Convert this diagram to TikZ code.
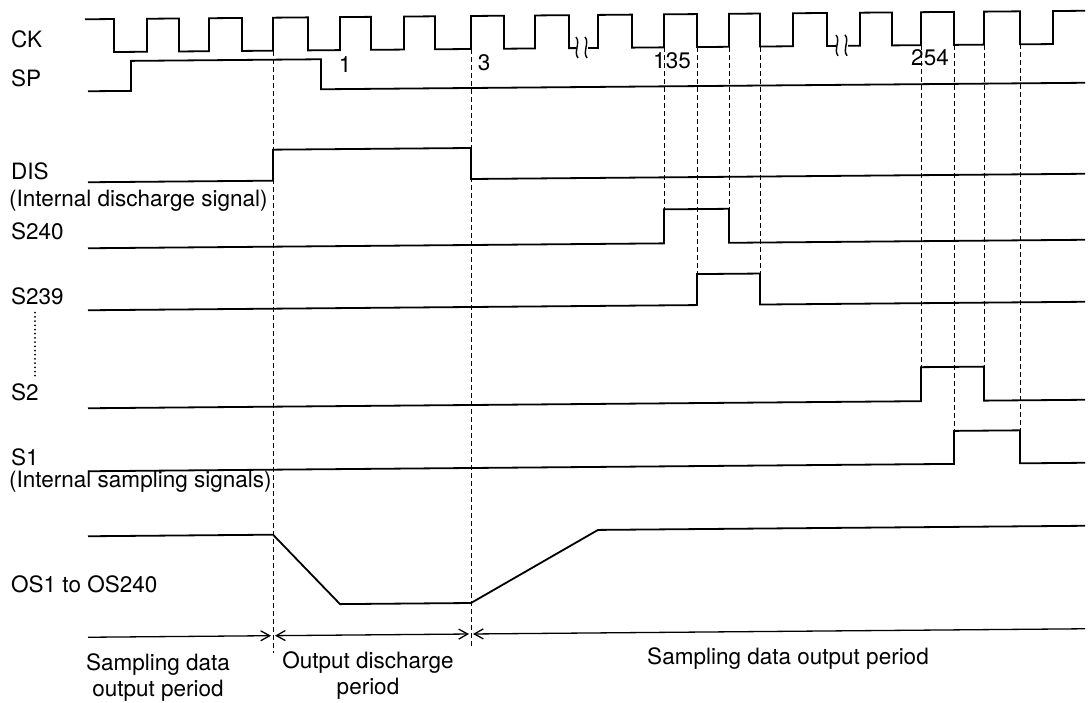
\documentclass[tikz,border=0pt]{standalone}
\usepackage{fontspec}
\setmainfont{TeX Gyre Heros}
\usetikzlibrary{arrows.meta}

\begin{document}
\begin{tikzpicture}[
  x=1pt, y=-1pt,
  font=\fontsize{22.5}{26}\selectfont,
  >={Straight Barb[length=9pt,width=10pt]},
  sig/.style={line width=1.8pt, line join=miter},
  guide/.style={line width=0.8pt, dash pattern=on 5pt off 3pt},
  dots/.style={line width=2pt, line cap=round, dash pattern=on 0pt off 4.2pt},
  period/.style={line width=1.3pt},
  lbl/.style={anchor=base west, inner sep=0pt},
  num/.style={anchor=base, inner sep=0pt},
  note/.style={anchor=north, inner sep=0pt, align=center},
]
\useasboundingbox (0,0) rectangle (1089,703);

% slight tilt of the scanned sheet
\begin{scope}[cm={1,0.0085,0,1,(0,0)}]

% ---------------- SIGNAL NAMES ----------------
\node[lbl] (ckName)   at (11,48)  {CK};
\node[lbl] (spName)   at (11,87)  {SP};
\node[lbl] (disName)  at (11,180) {DIS};
\node[lbl] (disNote)  at (9,207)  {(Internal discharge signal)};
\node[lbl] (sA)       at (11,240) {S240};
\node[lbl] (sB)       at (11,305) {S239};
\node[lbl] (sC)       at (11,401) {S2};
\node[lbl] (sD)       at (11,466) {S1};
\node[lbl] (sNote)    at (9,488)  {(Internal sampling signals)};
\node[lbl] (osName)   at (11,593) {OS1 to OS240};
\draw[dots] (35,313) -- (35,378);

% ---------------- CLOCK ----------------
\draw[sig] (85,20)
  \foreach \f/\r in {114/147,179/209,242/273,308/340,371/404,435/471,504/535}
    { -- (\f,20) -- (\f,53) -- (\r,53) -- (\r,20) }
  -- (569,20) -- (569,53) -- (576,53);
\draw[sig] (588,53) -- (598,53) -- (598,20)
  \foreach \f/\r in {632/664,697/729,760/793}
    { -- (\f,20) -- (\f,53) -- (\r,53) -- (\r,20) }
  -- (827,20) -- (827,53) -- (836,53);
\draw[sig] (848,53) -- (860,53) -- (860,20)
  \foreach \f/\r in {892/921,954/984,1020/1053}
    { -- (\f,20) -- (\f,53) -- (\r,53) -- (\r,20) }
  -- (1085,20);
% breaks in the clock
\foreach \b in {577,586,837,846}
  \draw[line width=1.4pt] (\b-1,42) .. controls (\b+4,48) and (\b-4,56) .. (\b+1,63);

\node[num] (nA) at (345,75) {1};
\node[num] (nB) at (484,75) {3};
\node[num] (nC) at (672,74) {135};
\node[num] (nD) at (930,73) {254};

% ---------------- WAVEFORMS ----------------
\draw[sig] (88,92) -- (131,92) -- (131,62) -- (321,62) -- (321,92) -- (1085,92);
\draw[sig] (88,183) -- (273,183) -- (273,152) -- (471,152) -- (471,183) -- (1085,183);
\draw[sig] (88,249) -- (664,249) -- (664,215) -- (729,215) -- (729,249) -- (1085,249);
\draw[sig] (88,311) -- (697,311) -- (697,280) -- (760,280) -- (760,311) -- (1085,311);
\draw[sig] (88,409) -- (921,409) -- (921,375) -- (984,375) -- (984,409) -- (1085,409);
\draw[sig] (88,472) -- (954,472) -- (954,439) -- (1020,439) -- (1020,472) -- (1085,472);
\draw[sig] (88,537) -- (273,537) -- (340,607) -- (471,607) -- (598,535) -- (1085,535);

% ---------------- GUIDES ----------------
\draw[guide] (273,53) -- (273,655);
\draw[guide] (471,53) -- (471,652);
\foreach \x/\y in {664/215,697/280,729/215,760/280,921/375,954/439,984/375,1020/439}
  \draw[guide] (\x,53) -- (\x,\y);

% ---------------- PERIODS ----------------
\draw[period,->] (88,638) -- (271,638);
\draw[period,<->] (275,638) -- (469,638);
\draw[period,<-] (473,638) -- (1085,638);
\node[note] (pA) at (158,655) {Sampling data\\output period};
\node[note] (pB) at (368,655) {Output discharge\\period};
\node[note] (pC) at (788,654) {Sampling data output period};

\end{scope}
\end{tikzpicture}
\end{document}
